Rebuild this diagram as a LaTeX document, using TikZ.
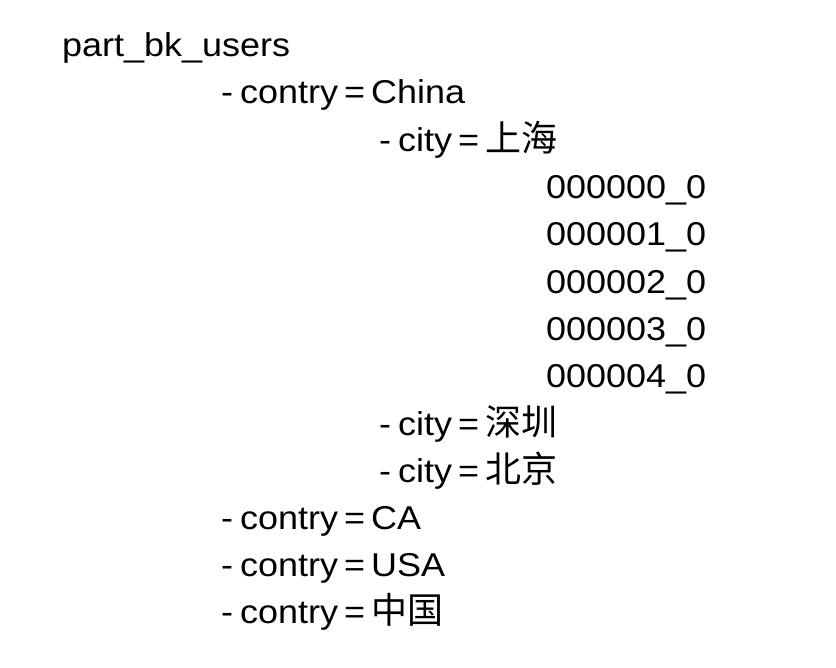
\documentclass[tikz,border=0pt]{standalone}
\usepackage{fontspec}
\setmainfont[FakeStretch=1.09]{Liberation Sans}
\newfontfamily\cjkfont{Noto Sans CJK SC}
\newcommand{\zh}[1]{{\cjkfont\fontsize{36}{40}\selectfont #1}}
\newcommand{\hy}{-\kern7pt}
\newcommand{\eqs}{\kern6pt=\kern6pt}
\begin{document}
\begin{tikzpicture}[x=1pt,y=1pt,
  txt/.style={anchor=base west,inner sep=0pt,font=\fontsize{33}{38}\selectfont}]
\useasboundingbox[fill=white] (0,0) rectangle (836,668);
\node[txt] (root) at (62,668-57) {part\_bk\_users};
\node[txt] (c1) at (221,668-104) {\hy contry\eqs China};
\node[txt] (s1) at (379,668-152) {\hy city\eqs\zh{上海}};
\node[txt] (f0) at (546,668-199) {000000\_0};
\node[txt] (f1) at (546,668-246) {000001\_0};
\node[txt] (f2) at (546,668-294) {000002\_0};
\node[txt] (f3) at (546,668-341) {000003\_0};
\node[txt] (f4) at (546,668-388) {000004\_0};
\node[txt] (s2) at (379,668-436) {\hy city\eqs\zh{深圳}};
\node[txt] (s3) at (379,668-483) {\hy city\eqs\zh{北京}};
\node[txt] (c2) at (221,668-530) {\hy contry\eqs CA};
\node[txt] (c3) at (221,668-577) {\hy contry\eqs USA};
\node[txt] (c4) at (221,668-624) {\hy contry\eqs\zh{中国}};
\end{tikzpicture}
\end{document}
